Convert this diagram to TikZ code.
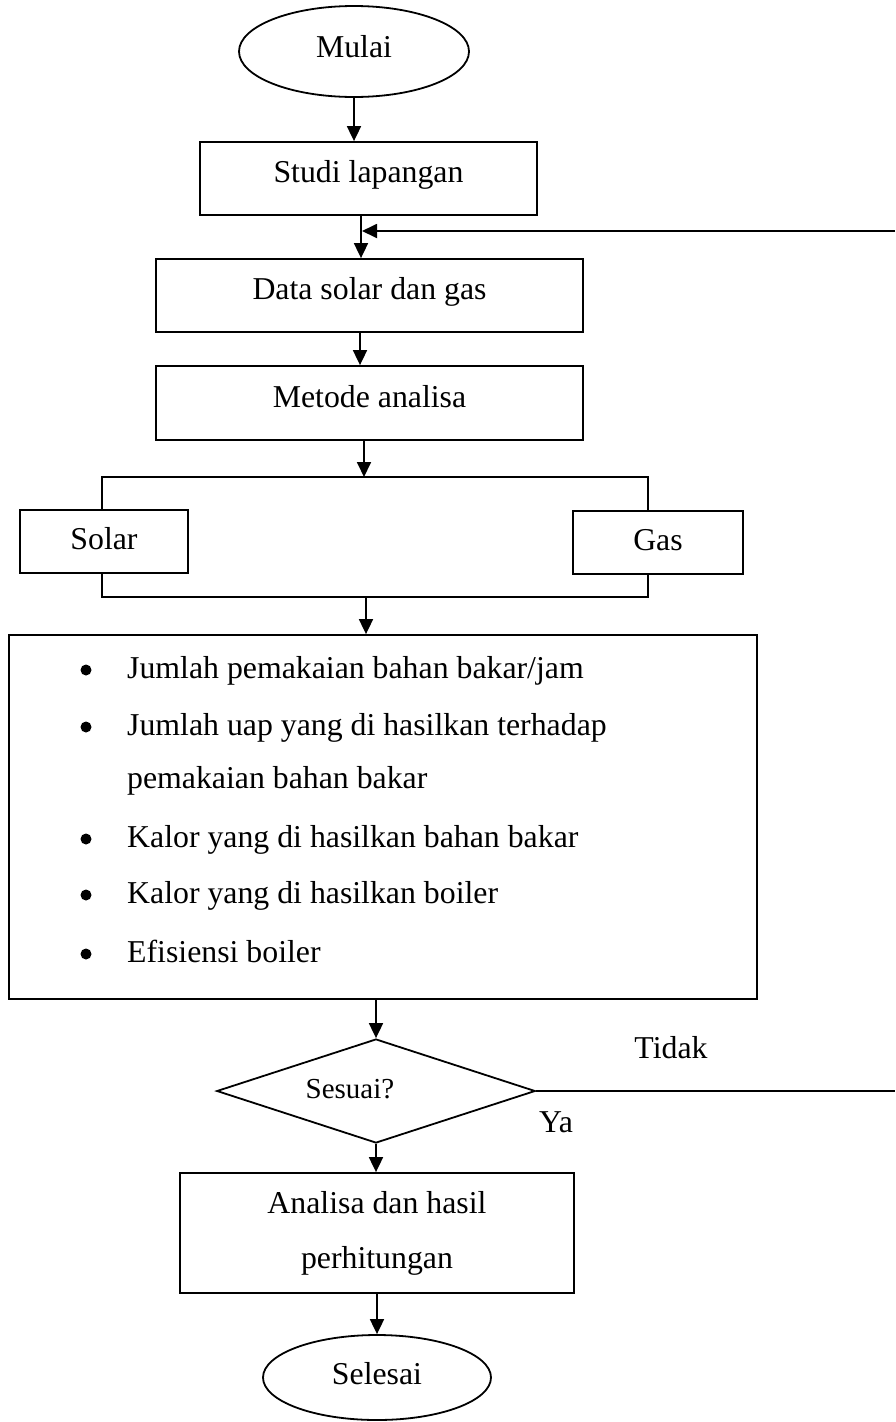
\documentclass[tikz,border=0pt]{standalone}
\usepackage{fontspec}
\setmainfont{Liberation Serif}
\usetikzlibrary{shapes.geometric,arrows.meta}
\begin{document}
\begin{tikzpicture}[x=1pt,y=-1pt,
  every node/.style={font=\fontsize{31.8pt}{55pt}\selectfont, inner sep=0pt},
  line/.style={line width=1.8pt},
  arr/.style={line, -{Triangle[length=15pt,width=14pt]}},
  box/.style={draw, line, rectangle, text height=22.3pt, text depth=14.3pt},
  term/.style={draw, line, ellipse, text height=22.3pt},
  decision/.style={draw, line, diamond, aspect=3},
  plain/.style={anchor=base west}]
\useasboundingbox (0,0) rectangle (895,1422);

% terminals and boxes
\node (mulai) [term, text depth=11.1pt, minimum width=230pt, minimum height=91pt] at (354,51.5) {Mulai};
\node (studi) [box, minimum width=337pt, minimum height=73pt] at (368.5,178.5) {Studi lapangan};
\node (data) [box, minimum width=427pt, minimum height=73pt] at (369.5,295.5) {Data solar dan gas};
\node (metode) [box, minimum width=427pt, minimum height=74pt] at (369.5,403) {Metode analisa};
\node (solar) [box, text depth=6pt, minimum width=168pt, minimum height=63pt] at (104,541.5) {Solar};
\node (gas) [box, text depth=6pt, minimum width=170pt, minimum height=63pt] at (658,542.5) {Gas};
\node (params) [draw, line, rectangle, minimum width=748pt, minimum height=364pt] at (383,817) {};
\node (sesuai) [decision, font=\fontsize{29pt}{35pt}\selectfont, text height=21pt, text depth=7pt,
  minimum width=318.5pt, minimum height=104pt] at (376,1091) {Sesuai?\hspace*{52pt}};
\node (analisa) [draw, line, rectangle, align=center, minimum width=394pt, minimum height=120pt] at (377,1233)
  {Analisa dan hasil\\perhitungan};
\node (selesai) [term, text depth=8pt, minimum width=228pt, minimum height=85pt] at (377,1377.5) {Selesai};

% list inside the parameter box
\fill (86,670) circle (5.5pt);
\node (l1) [plain] at (127,678) {Jumlah pemakaian bahan bakar/jam};
\fill (86,727) circle (5.5pt);
\node (l2) [plain] at (127,735) {Jumlah uap yang di hasilkan terhadap};
\node (l3) [plain] at (127,788) {pemakaian bahan bakar};
\fill (86,839) circle (5.5pt);
\node (l4) [plain] at (127,847) {Kalor yang di hasilkan bahan bakar};
\fill (86,895) circle (5.5pt);
\node (l5) [plain] at (127,903) {Kalor yang di hasilkan boiler};
\fill (86,954) circle (5.5pt);
\node (l6) [plain] at (127,962) {Efisiensi boiler};

% branch labels
\node (tidak) [anchor=base] at (671,1058) {Tidak};
\node (ya) [anchor=base] at (556,1132) {Ya};

% helper coordinates
\coordinate (fbtop) at (895,231);
\coordinate (fbbot) at (895,1091);
\coordinate (brtl) at (101.6,477);
\coordinate (brtr) at (648,477);
\coordinate (brbl) at (101.6,597);
\coordinate (brbr) at (648,597);
\coordinate (brmid) at (366,597);

% connectors
\draw[arr] (mulai.south) -- (mulai.south |- studi.north);
\draw[arr] ([xshift=-7.5pt]studi.south) -- ([xshift=-7.5pt]studi.south |- data.north);
\draw[arr] (fbtop) -- (fbtop -| 362,0);
\draw[arr] ([xshift=-9.5pt]data.south) -- ([xshift=-9.5pt]data.south |- metode.north);
\draw[arr] ([xshift=-5.5pt]metode.south) -- ([xshift=-5.5pt]metode.south |- brtl);
\draw[line] (brtl |- solar.north) -- (brtl) -- (brtr) -- (brtr |- gas.north);
\draw[line] (brbl |- solar.south) -- (brbl) -- (brbr) -- (brbr |- gas.south);
\draw[arr] (brmid) -- (brmid |- params.north);
\draw[arr] (params.south -| sesuai.north) -- (sesuai.north);
\draw[line] (sesuai.east) -- (fbbot);
\draw[arr] (sesuai.south) -- (sesuai.south |- analisa.north);
\draw[arr] (analisa.south -| selesai.north) -- (selesai.north);
\end{tikzpicture}
\end{document}
